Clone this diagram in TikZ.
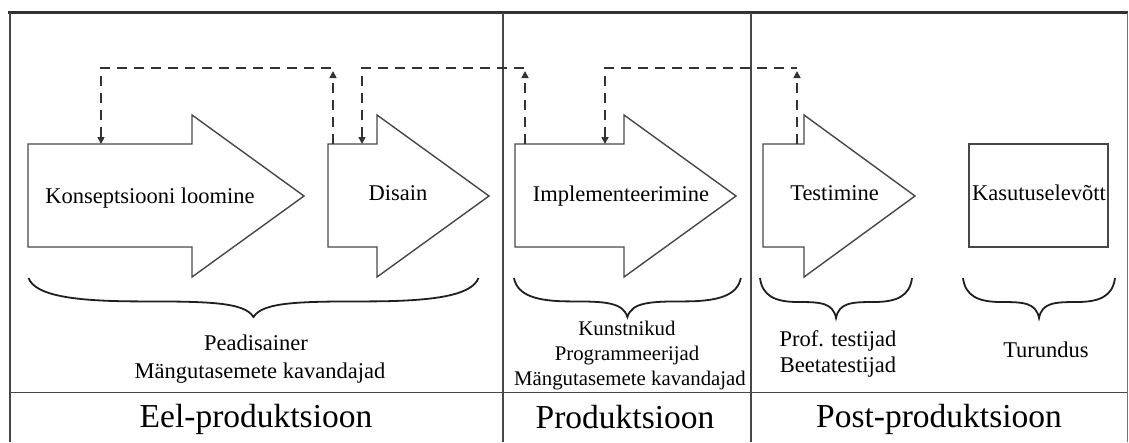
\documentclass[tikz,border=0pt]{standalone}
\usepackage{fontspec}
\setmainfont{Liberation Serif}
\usetikzlibrary{arrows.meta}
\newcommand\stagearrow[3]{% left x, shaft end x, tip x
  \draw[stage] (#1,144) -- (#2,144) -- (#2,115) -- (#3,196) -- (#2,277) -- (#2,247) -- (#1,247) -- cycle;}
\newcommand\curlybr[4]{% center x, top y, half width, depth
  \begin{scope}[shift={(#1,#2)},xscale=#3,yscale=#4]
    \draw[brc] (-1,0) .. controls (-0.97,0.45) and (-0.8,0.6) .. (-0.5,0.6)
      .. controls (-0.2,0.6) and (-0.04,0.62) .. (0,1)
      .. controls (0.04,0.62) and (0.2,0.6) .. (0.5,0.6)
      .. controls (0.8,0.6) and (0.97,0.45) .. (1,0);
  \end{scope}}
\begin{document}
\begin{tikzpicture}[x=1pt,y=-1pt,
  frame/.style={draw=black!72, line width=1.6pt},
  stage/.style={draw=black!72, line width=1.4pt, line join=miter, fill=white},
  conn/.style={draw=black!80, line width=1.6pt, dash pattern=on 10pt off 7pt,
    >={Triangle[width=7pt,length=7pt]}},
  brc/.style={draw=black!88, line width=1.8pt},
  lbl/.style={font=\fontsize{22.5}{22.5}\selectfont, inner sep=0pt, anchor=base},
  role/.style={font=\fontsize{22.5}{22.5}\selectfont, inner sep=0pt, anchor=base},
  roles/.style={font=\fontsize{20.8}{20.8}\selectfont, inner sep=0pt, anchor=base},
  ttl/.style={font=\fontsize{33.5}{33.5}\selectfont, inner sep=0pt, anchor=base}]
\useasboundingbox (0,0) rectangle (1129,442);

% frame
\draw[frame, line width=2.4pt, draw=black!80] (8.3,12.5) -- (1128,12.5);
\draw[frame, line width=2pt] (9.5,12.5) -- (9.5,442);
\draw[frame, line width=1.3pt, draw=black!55] (1127.5,12.5) -- (1127.5,442);
\draw[frame] (502.7,12.5) -- (502.7,442);
\draw[frame] (751,12.5) -- (751,442);
\draw[frame, line width=1.5pt] (9.5,392.5) -- (1127,392.5);

% stages
\stagearrow{28}{192}{304}
\stagearrow{328}{377}{489}
\stagearrow{515}{624}{736}
\stagearrow{763}{804}{915}
\node[stage, minimum width=139pt, minimum height=103pt, inner sep=0pt] (kasbox) at (1038.5,195.5) {};

\node[lbl] (konsept) at (150,203) {Konseptsiooni loomine};
\node[lbl] (disain) at (398,200) {Disain};
\node[lbl] (impl) at (621,201.5) {Implementeerimine};
\node[lbl] (test) at (834.5,200) {Testimine};
\node[lbl] (kas) at (1039,200) {Kasutuselevõtt};

% feedback connectors
\coordinate (k_in) at (101,144);
\coordinate (d_out) at (333,144);
\coordinate (c1) at (333,68);
\coordinate (d_in) at (362,144);
\coordinate (i_out) at (525,144);
\coordinate (c2) at (525,68);
\coordinate (i_in) at (605,144);
\coordinate (t_out) at (797,144);
\coordinate (c3) at (797,68);

\draw[conn,<-] (k_in) |- (c1);
\draw[conn,->,shorten >=3pt] (d_out) -- (c1);
\draw[conn,<-] (d_in) |- (c2);
\draw[conn,->,shorten >=3pt] (i_out) -- (c2);
\draw[conn,<-] (i_in) |- (c3);
\draw[conn,->,shorten >=3pt] (t_out) -- (c3);

% braces
\curlybr{253.5}{278}{225}{39}
\curlybr{627.4}{278}{113.4}{39}
\curlybr{836}{278}{76}{40}
\curlybr{1039}{278}{76}{40}

% roles
\node[role] (r1a) at (256,350) {Peadisainer};
\node[role] (r1b) at (260,378.5) {Mängutasemete kavandajad};
\node[roles] (r2a) at (627,335) {Kunstnikud};
\node[roles] (r2b) at (627,360) {Programmeerijad};
\node[roles] (r2c) at (630,385) {Mängutasemete kavandajad};
\node[role] (r3a) at (838,346.5) {Prof. testijad};
\node[role] (r3b) at (838,372) {Beetatestijad};
\node[role] (r4a) at (1046,357) {Turundus};

% phase titles
\node[ttl] (eel) at (256,427) {Eel-produktsioon};
\node[ttl] (prod) at (625,428) {Produktsioon};
\node[ttl] (post) at (939,427) {Post-produktsioon};
\end{tikzpicture}
\end{document}
